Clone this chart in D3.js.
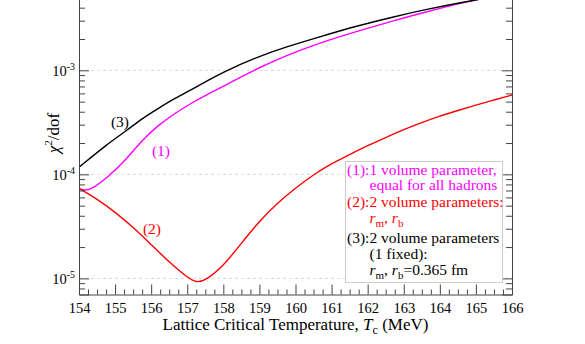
<!DOCTYPE html>
<html>
<head>
<meta charset="utf-8">
<script src="https://cdn.jsdelivr.net/npm/d3@7"></script>
<style>
  body { margin: 0; background: #fff; }
  svg { font-family: "Liberation Serif", "Times New Roman", serif; }
</style>
</head>
<body>
<script>
// curve (1): 1 volume parameter (magenta)
const tempOne = [154.0, 154.17, 154.35, 154.81, 155.28, 155.74, 156.2, 156.66, 157.13, 157.59, 158.05, 158.83, 159.76, 160.68, 161.61, 162.72, 163.64, 164.57, 165.5];
const chiOne  = [7.23e-5, 7.0e-5, 7.2e-5, 9.48e-5, 1.35e-4, 2.12e-4, 2.98e-4, 3.86e-4, 4.88e-4, 5.95e-4, 7.15e-4, 1.0e-3, 1.40e-3, 1.84e-3, 2.32e-3, 3.00e-3, 3.66e-3, 4.41e-3, 5.2e-3];

// curve (2): 2 volume parameters (red)
const tempTwo = [154.0, 154.5, 155.0, 155.5, 156.0, 156.5, 157.0, 157.25, 157.5, 158.0, 158.5, 159.0, 159.5, 160.0, 160.5, 161.0, 161.5, 162.0, 162.5, 163.0, 163.5, 164.0, 164.5, 165.0, 165.5, 166.0];
const chiTwo  = [7.33e-5, 5.79e-5, 4.34e-5, 3.11e-5, 2.11e-5, 1.43e-5, 1.02e-5, 9.1e-6, 9.5e-6, 1.31e-5, 2.18e-5, 3.56e-5, 5.30e-5, 7.38e-5, 9.96e-5, 1.27e-4, 1.55e-4, 1.89e-4, 2.26e-4, 2.70e-4, 3.15e-4, 3.64e-4, 4.11e-4, 4.64e-4, 5.18e-4, 5.79e-4];

// curve (3): 2 volume parameters, 1 fixed (black)
const tempThree = [154.0, 154.81, 155.28, 155.74, 156.2, 156.66, 157.13, 157.59, 158.05, 158.83, 159.76, 160.68, 161.61, 162.72, 163.64, 164.57, 165.5];
const chiThree  = [1.17e-4, 1.99e-4, 2.57e-4, 3.42e-4, 4.32e-4, 5.38e-4, 6.56e-4, 8.07e-4, 9.8e-4, 1.30e-3, 1.69e-3, 2.10e-3, 2.62e-3, 3.27e-3, 3.86e-3, 4.47e-3, 5.1e-3];

const xTicks = [154, 155, 156, 157, 158, 159, 160, 161, 162, 163, 164, 165, 166];
const yMajor = [1e-5, 1e-4, 1e-3];
const yExponents = ["-5", "-4", "-3"];
const yMinor = [8e-6, 9e-6, 2e-5, 3e-5, 4e-5, 5e-5, 6e-5, 7e-5, 8e-5, 9e-5,
                2e-4, 3e-4, 4e-4, 5e-4, 6e-4, 7e-4, 8e-4, 9e-4, 2e-3, 3e-3, 4e-3, 5e-3];

const curveLabels = ["(1)", "(2)", "(3)"];
const legendLines = [
  [["(1):1 volume parameter,", ""]],
  [["equal for all hadrons", ""]],
  [["(2):2 volume parameters:", ""]],
  [["r", "i"], ["m", "sub"], [", ", ""], ["r", "i"], ["b", "sub"]],
  [["(3):2 volume parameters", ""]],
  [["(1 fixed):", ""]],
  [["r", "i"], ["m", "sub"], [", ", ""], ["r", "i"], ["b", "sub"], ["=0.365 fm", ""]]
];

const width = 585, height = 344;
const colors = ["#ff00ff", "#ff0000", "#000000"];

const svg = d3.select("body").append("svg")
    .attr("width", width)
    .attr("height", height);

const x = d3.scaleLinear().domain([154, 166]).range([79, 512]);
const y = d3.scaleLog().domain([7e-6, 5e-3]).range([294.5, -2.4]);

svg.append("clipPath").attr("id", "plot")
  .append("rect")
    .attr("x", x(154)).attr("y", 0)
    .attr("width", x(166) - x(154)).attr("height", y(7e-6));

// dashed grid at the decades
svg.append("g").selectAll("line")
  .data(yMajor)
  .join("line")
    .attr("x1", x(154)).attr("x2", x(166))
    .attr("y1", d => y(d)).attr("y2", d => y(d))
    .attr("stroke", "#d9d9d9")
    .attr("stroke-dasharray", "3,3");

// curves
const line = d3.line()
    .x(d => x(d[0]))
    .y(d => y(d[1]))
    .curve(d3.curveBasis);

const series = [
  d3.zip(tempOne, chiOne),
  d3.zip(tempTwo, chiTwo),
  d3.zip(tempThree, chiThree)
];

svg.append("g").attr("clip-path", "url(#plot)")
  .selectAll("path")
  .data(series)
  .join("path")
    .attr("d", line)
    .attr("fill", "none")
    .attr("stroke", (d, i) => colors[i])
    .attr("stroke-width", 1.4);

// axes, ticks pointing inwards
const axisColor = "#444";
function styleAxis(g) {
  g.selectAll("path, line").attr("stroke", axisColor);
}

svg.append("g")
    .attr("transform", `translate(0,${y(7e-6)})`)
    .call(d3.axisBottom(x).tickValues(xTicks).tickSize(-10).tickPadding(8).tickFormat(d3.format("d")))
    .call(styleAxis)
    .call(g => g.selectAll("text").attr("font-size", 14.5).attr("font-family", "Liberation Serif").attr("fill", "#000"));

const xMinor = d3.range(154, 166, 0.25).filter(d => d % 1 !== 0);
svg.append("g")
    .attr("transform", `translate(0,${y(7e-6)})`)
    .call(d3.axisBottom(x).tickValues(xMinor).tickSize(-5).tickFormat(""))
    .call(styleAxis)
    .call(g => g.select(".domain").remove());

svg.append("g")
    .attr("transform", `translate(${x(154)},0)`)
    .call(d3.axisLeft(y).tickValues(yMajor).tickSize(-10).tickFormat(""))
    .call(styleAxis);

svg.append("g")
    .attr("transform", `translate(${x(154)},0)`)
    .call(d3.axisLeft(y).tickValues(yMinor).tickSize(-6).tickFormat(""))
    .call(styleAxis)
    .call(g => g.select(".domain").remove());

svg.append("g")
    .attr("transform", `translate(${x(166)},0)`)
    .call(d3.axisRight(y).tickValues(yMajor).tickSize(-10).tickFormat(""))
    .call(styleAxis);

svg.append("g")
    .attr("transform", `translate(${x(166)},0)`)
    .call(d3.axisRight(y).tickValues(yMinor).tickSize(-6).tickFormat(""))
    .call(styleAxis)
    .call(g => g.select(".domain").remove());

// y tick labels 10^n
const yl = svg.append("g").selectAll("text")
  .data(yMajor)
  .join("text")
    .attr("x", 75)
    .attr("y", d => y(d) + 5.5)
    .attr("text-anchor", "end")
    .attr("font-size", 14.5);
yl.append("tspan").text("10");
yl.append("tspan").attr("dy", -6).attr("font-size", 10).text((d, i) => yExponents[i]);

// axis titles
const xt = svg.append("text")
    .attr("x", (x(154) + x(166)) / 2)
    .attr("y", 330)
    .attr("text-anchor", "middle")
    .attr("font-size", 17);
xt.append("tspan").text("Lattice Critical Temperature, ");
xt.append("tspan").attr("font-style", "italic").text("T");
xt.append("tspan").attr("font-size", 12).attr("dy", 4).text("c");
xt.append("tspan").attr("dy", -4).text(" (MeV)");

const yt = svg.append("text")
    .attr("transform", "translate(59,133) rotate(-90)")
    .attr("text-anchor", "middle")
    .attr("font-size", 17);
yt.append("tspan").attr("font-style", "italic").text("χ");
yt.append("tspan").attr("font-size", 11).attr("dy", -7).text("2");
yt.append("tspan").attr("dy", 7).text("/dof");

// labels next to the curves
const labelPos = [[161, 151], [152, 229], [120, 122]];
svg.append("g").selectAll("text")
  .data(curveLabels)
  .join("text")
    .attr("x", (d, i) => labelPos[i][0])
    .attr("y", (d, i) => labelPos[i][1] + 5)
    .attr("text-anchor", "middle")
    .attr("font-size", 15.5)
    .attr("fill", (d, i) => colors[i])
    .text(d => d);

// legend box
svg.append("rect")
    .attr("x", 345.5).attr("y", 161.5)
    .attr("width", 157).attr("height", 121)
    .attr("fill", "#fff")
    .attr("stroke", "#cccccc");

const lineY = [175, 190, 207, 223, 243, 259, 275];
const lineX = [347, 369.5, 347, 369.5, 347, 369.5, 369.5];
const lineColor = [0, 0, 1, 1, 2, 2, 2];
legendLines.forEach((segs, k) => {
  const t = svg.append("text")
      .attr("x", lineX[k])
      .attr("y", lineY[k])
      .attr("font-size", 15.5)
      .attr("fill", colors[lineColor[k]]);
  let shift = 0;
  segs.forEach(([s, kind]) => {
    const ts = t.append("tspan").text(s);
    if (kind === "i") ts.attr("font-style", "italic");
    if (kind === "sub") {
      ts.attr("font-size", 11).attr("dy", 4 - shift);
      shift = 4;
    } else if (shift) {
      ts.attr("dy", -shift);
      shift = 0;
    }
  });
});
</script>
</body>
</html>
